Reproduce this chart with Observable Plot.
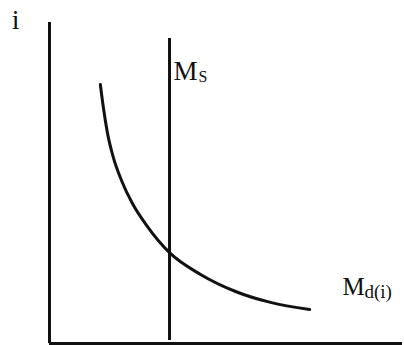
<!DOCTYPE html>
<html>
<head>
<meta charset="utf-8">
<script src="https://cdn.jsdelivr.net/npm/d3@7"></script>
<script src="https://cdn.jsdelivr.net/npm/@observablehq/plot@0.6"></script>
<style>
  html, body { margin: 0; padding: 0; background: #fff; }
  #chart svg { display: block; }
</style>
</head>
<body>
<div id="chart"></div>
<script>
// Money market: vertical money supply and downward-sloping money demand.
// Quantity of money (x) and interest rate i (y), in arbitrary units 0–100.
const demandQuantity = [14.4, 15.3, 16.4, 18.1, 20.4, 23.5, 27.5, 34.0, 42.8, 52.7, 62.6, 73.7];
const demandRate     = [80.7, 73.2, 65.7, 57.9, 50.8, 43.6, 36.8, 28.3, 21.5, 16.2, 12.8, 10.6];

const supplyQuantity = 34.0;
const supplyRateRange = [0.9, 95.0];

const axisLength = 100;

const yLabel = "i";
const supplyLabel = ["M", "S"];
const demandLabel = ["M", "d(i)"];
const supplyLabelPos = {x: 35.1, y: 82.2};
const demandLabelPos = {x: 83.0, y: 15.0};

const demand = demandQuantity.map((q, k) => ({q, r: demandRate[k]}));

const serif = "'Liberation Serif', 'Times New Roman', serif";

const chart = Plot.plot({
  width: 404,
  height: 345,
  marginLeft: 49,
  marginRight: 2,
  marginTop: 22,
  marginBottom: 2,
  x: {domain: [0, axisLength], axis: null},
  y: {domain: [0, axisLength], axis: null},
  style: {fontFamily: serif, background: "#fff", overflow: "visible"},
  marks: [
    // axes
    Plot.ruleX([0], {y1: 0, y2: axisLength, stroke: "#111", strokeWidth: 3}),
    Plot.ruleY([0], {x1: 0, x2: axisLength, stroke: "#111", strokeWidth: 3}),
    // money supply
    Plot.ruleX([supplyQuantity], {y1: supplyRateRange[0], y2: supplyRateRange[1], stroke: "#111", strokeWidth: 3}),
    // money demand
    Plot.line(demand, {x: "q", y: "r", curve: "monotone-x", stroke: "#111", strokeWidth: 3}),
    // axis label
    Plot.text([yLabel], {x: 0, y: 98.1, text: d => d, textAnchor: "end", lineAnchor: "bottom",
      dx: -30, fontSize: 28, fill: "#111"}),
    // curve labels with subscripts
    Plot.text([supplyLabel[0]], {x: supplyLabelPos.x, y: supplyLabelPos.y, text: d => d,
      textAnchor: "start", lineAnchor: "bottom", fontSize: 27, fill: "#111"}),
    Plot.text([supplyLabel[1]], {x: supplyLabelPos.x, y: supplyLabelPos.y, text: d => d,
      textAnchor: "start", lineAnchor: "bottom", dx: 25, dy: 2, fontSize: 16, fill: "#111"}),
    Plot.text([demandLabel[0]], {x: demandLabelPos.x, y: demandLabelPos.y, text: d => d,
      textAnchor: "start", lineAnchor: "bottom", fontSize: 25, fill: "#111"}),
    Plot.text([demandLabel[1]], {x: demandLabelPos.x, y: demandLabelPos.y, text: d => d,
      textAnchor: "start", lineAnchor: "bottom", dx: 22, dy: 3, fontSize: 19, fill: "#111"})
  ]
});

document.getElementById("chart").append(chart);
</script>
</body>
</html>
